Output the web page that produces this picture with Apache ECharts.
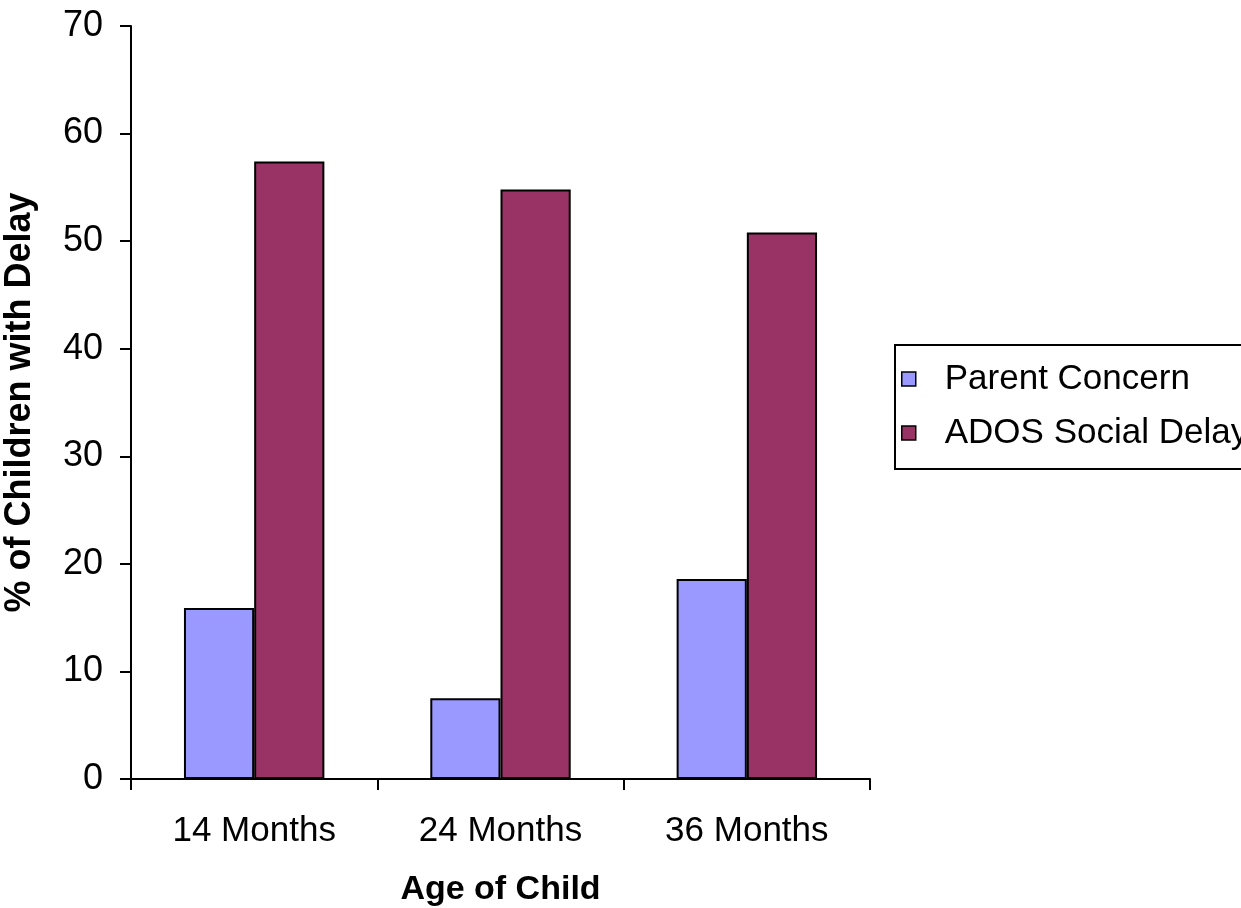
<!DOCTYPE html>
<html>
<head>
<meta charset="utf-8">
<script src="https://cdn.jsdelivr.net/npm/echarts@6/dist/echarts.min.js"></script>
<style>
  html, body { margin: 0; padding: 0; background: #ffffff; }
  #chart { width: 1241px; height: 908px; }
</style>
</head>
<body>
<div id="chart"></div>
<script>
// Age groups and the share of children flagged at each age
const categories = ['14 Months', '24 Months', '36 Months'];
const parentConcern = [15.9, 7.5, 18.6];
const adosSocialDelay = [57.4, 54.8, 50.8];
const seriesNames = ['Parent Concern', 'ADOS Social Delay'];
const yTicks = { min: 0, max: 70, interval: 10 };
const xTitle = 'Age of Child';
const yTitle = '% of Children with Delay';

const FONT = '"Liberation Sans", Arial, sans-serif';
const axisLine = { show: true, lineStyle: { color: '#000', width: 2 } };

const chart = echarts.init(document.getElementById('chart'), null, { renderer: 'canvas' });
chart.setOption({
  backgroundColor: '#ffffff',
  animation: false,
  grid: { left: 131, top: 26, right: 371, bottom: 129, containLabel: false, outerBoundsMode: 'none' },
  legend: {
    orient: 'vertical',
    left: 895,
    top: 345,
    padding: [16, 30, 18, 6],
    borderColor: '#000',
    borderWidth: 2,
    itemWidth: 14,
    itemHeight: 14,
    itemGap: 18,
    icon: 'rect',
    itemStyle: { borderColor: '#000', borderWidth: 1.5 },
    textStyle: { fontFamily: FONT, fontSize: 35, color: '#000', lineHeight: 36, padding: [0, 0, 0, 24] },
    data: seriesNames
  },
  xAxis: {
    type: 'category',
    data: categories,
    name: xTitle,
    nameLocation: 'middle',
    nameGap: 94,
    nameTextStyle: { fontFamily: FONT, fontSize: 34, fontWeight: 'bold', color: '#000' },
    axisLine: axisLine,
    axisTick: { show: true, length: 11, alignWithLabel: false, lineStyle: { color: '#000', width: 2 } },
    axisLabel: { fontFamily: FONT, fontSize: 35, color: '#000', margin: 35 },
    splitLine: { show: false }
  },
  yAxis: {
    type: 'value',
    min: yTicks.min,
    max: yTicks.max,
    interval: yTicks.interval,
    name: yTitle,
    nameLocation: 'middle',
    nameGap: 93,
    nameRotate: 90,
    nameTextStyle: { fontFamily: FONT, fontSize: 36, fontWeight: 'bold', color: '#000' },
    axisLine: axisLine,
    axisTick: { show: true, length: 11, lineStyle: { color: '#000', width: 2 } },
    axisLabel: { fontFamily: FONT, fontSize: 36, color: '#000', margin: 28 },
    splitLine: { show: false }
  },
  series: [
    {
      name: seriesNames[0],
      type: 'bar',
      data: parentConcern,
      barGap: '0%',
      barCategoryGap: '43%',
      itemStyle: { color: '#9999FF', borderColor: '#000', borderWidth: 2 }
    },
    {
      name: seriesNames[1],
      type: 'bar',
      data: adosSocialDelay,
      barGap: '0%',
      barCategoryGap: '43%',
      itemStyle: { color: '#993366', borderColor: '#000', borderWidth: 2 }
    }
  ]
});
</script>
</body>
</html>
